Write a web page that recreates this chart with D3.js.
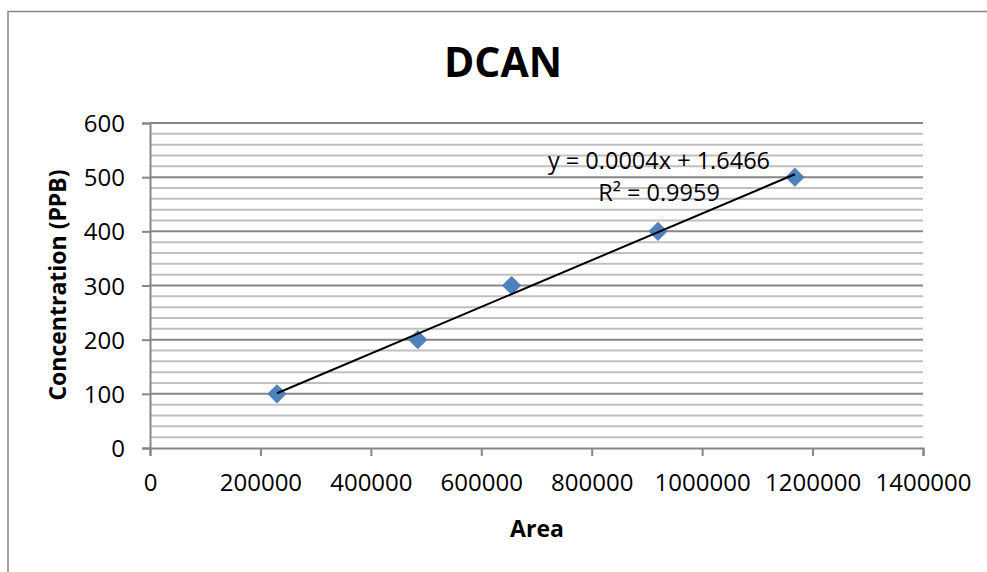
<!DOCTYPE html>
<html><head><meta charset="utf-8">
<script src="https://cdn.jsdelivr.net/npm/d3@7"></script>
<style>body{margin:0;background:#fff}svg{display:block}text{font-family:"Open Sans",sans-serif;fill:#000}</style>
</head><body>
<svg id="c" width="987" height="572"></svg>
<script>
const areas = [230000, 485000, 655000, 920000, 1168000];
const concs = [100, 200, 300, 400, 500];
const xTicks = [0, 200000, 400000, 600000, 800000, 1000000, 1200000, 1400000];
const yTicks = [0, 100, 200, 300, 400, 500, 600];
const title = "DCAN";
const xTitle = "Area";
const yTitle = "Concentration (PPB)";
const eqLines = ["y = 0.0004x + 1.6466", "R² = 0.9959"];

const svg = d3.select("#c");
// chart border
svg.append("path").attr("d","M8,572V11.5H987").attr("fill","none").attr("stroke","#868686").attr("stroke-width",1.5);

const x = d3.scaleLinear().domain([0,1400000]).range([150,923]);
const y = d3.scaleLinear().domain([0,600]).range([448,123]);

// minor gridlines
const minor = d3.range(20,600,20).filter(v=>v%100!==0);
svg.append("g").selectAll("line").data(minor).join("line")
  .attr("x1",x(0)).attr("x2",x(1400000)).attr("y1",d=>y(d)).attr("y2",d=>y(d))
  .attr("stroke","#c0c0c0").attr("stroke-width",2);
// major gridlines
svg.append("g").selectAll("line").data(yTicks.filter(v=>v>0)).join("line")
  .attr("x1",x(0)).attr("x2",x(1400000)).attr("y1",d=>y(d)).attr("y2",d=>y(d))
  .attr("stroke","#868686").attr("stroke-width",2);

// axes
const yAx = svg.append("g").attr("transform",`translate(${x(0)},0)`)
  .call(d3.axisLeft(y).tickValues(yTicks).tickSize(8).tickPadding(17).tickFormat(d3.format("d")));
const xAx = svg.append("g").attr("transform",`translate(0,${y(0)})`)
  .call(d3.axisBottom(x).tickValues(xTicks).tickSize(8).tickPadding(18).tickFormat(d3.format("d")));
[yAx,xAx].forEach(a=>{
  a.select(".domain").attr("stroke","#868686").attr("stroke-width",2);
  a.selectAll(".tick line").attr("stroke","#868686").attr("stroke-width",2);
  a.selectAll(".tick text").attr("font-size",24).attr("font-family","Open Sans").attr("fill","#000");
});
yAx.selectAll(".tick text").attr("dy","0.36em");
xAx.selectAll(".tick text").attr("dy","0.7em");

// markers (square rotated 45deg)
const sym = d3.symbol().type(d3.symbolSquare).size(185);
svg.append("g").selectAll("path").data(areas).join("path")
  .attr("d", sym).attr("transform",(d,i)=>`translate(${x(d)},${y(concs[i])}) rotate(45)`)
  .attr("fill","#4F81BD");

// linear trendline (least squares)
const mx = d3.mean(areas), my = d3.mean(concs);
const sxy = d3.sum(areas,(d,i)=>(d-mx)*(concs[i]-my));
const sxx = d3.sum(areas,d=>(d-mx)*(d-mx));
const slope = sxy/sxx, icpt = my - slope*mx;
const x0 = d3.min(areas), x1 = d3.max(areas);
svg.append("line").attr("x1",x(x0)).attr("y1",y(slope*x0+icpt))
  .attr("x2",x(x1)).attr("y2",y(slope*x1+icpt)).attr("stroke","#000").attr("stroke-width",2);

// equation
svg.append("text").attr("x",659).attr("y",169).attr("text-anchor","middle").attr("font-size",23.5).text(eqLines[0]);
svg.append("text").attr("x",659).attr("y",201).attr("text-anchor","middle").attr("font-size",23.5).text(eqLines[1]);

// titles
svg.append("text").attr("x",503).attr("y",77).attr("text-anchor","middle").attr("font-size",41).attr("font-weight","bold").text(title);
svg.append("text").attr("x",537).attr("y",537).attr("text-anchor","middle").attr("font-size",23).attr("font-weight","bold").text(xTitle);
svg.append("text").attr("transform","translate(66,285) rotate(-90)").attr("text-anchor","middle").attr("font-size",23).attr("font-weight","bold").text(yTitle);
</script>
</body></html>
